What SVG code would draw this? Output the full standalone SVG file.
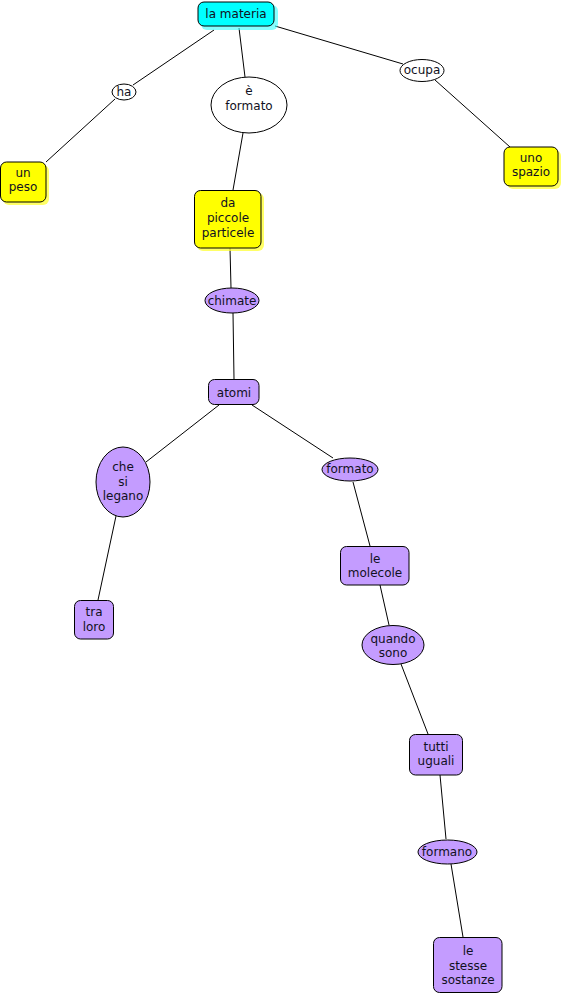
<svg xmlns="http://www.w3.org/2000/svg" width="564" height="994" viewBox="0 0 564 994">
<style>
.n{stroke:#000;stroke-width:1}
.y{fill:#ffff00}
.c{fill:#00ffff}
.p{fill:#c49cff}
.w{fill:#fff}
.sy{fill:#ffff33;opacity:0.75}
.sc{fill:#33ffff;opacity:0.6}
text{font-family:"DejaVu Sans",Verdana,sans-serif;font-size:12px;fill:#111122;text-anchor:middle}
.e{stroke:#000;stroke-width:1;fill:none}
</style>
<rect width="564" height="994" fill="#fff"/>
<g id="connectors">
<line class="e" x1="214" y1="30" x2="133" y2="85"/>
<line class="e" x1="115" y1="99" x2="46" y2="162"/>
<line class="e" x1="239" y1="28" x2="245" y2="77"/>
<line class="e" x1="243" y1="133" x2="233" y2="190"/>
<line class="e" x1="275" y1="26" x2="403" y2="64"/>
<line class="e" x1="435" y1="80" x2="510" y2="147"/>
<line class="e" x1="230" y1="248" x2="231" y2="288"/>
<line class="e" x1="233" y1="313" x2="234" y2="379"/>
<line class="e" x1="219" y1="405" x2="146" y2="462"/>
<line class="e" x1="252" y1="405" x2="333" y2="458"/>
<line class="e" x1="116" y1="516" x2="98" y2="600"/>
<line class="e" x1="353" y1="482" x2="370" y2="546"/>
<line class="e" x1="380" y1="585" x2="389" y2="625"/>
<line class="e" x1="401" y1="664" x2="428" y2="734"/>
<line class="e" x1="440" y1="775" x2="446" y2="839"/>
<line class="e" x1="451" y1="864" x2="463" y2="937"/>
</g>
<g id="n-materia">
<rect class="sc" x="201" y="5" width="77" height="25" rx="6"/>
<rect class="n c" x="198" y="2" width="76" height="24" rx="6"/>
<text x="236" y="18">la materia</text>
</g>
<g id="n-ha">
<ellipse class="n w" cx="124" cy="92" rx="12" ry="8"/>
<text x="124" y="96">ha</text>
</g>
<g id="n-eformato">
<ellipse class="n w" cx="249" cy="105" rx="38" ry="28"/>
<text x="249" y="95">è</text>
<text x="249" y="110">formato</text>
</g>
<g id="n-ocupa">
<ellipse class="n w" cx="422" cy="70.5" rx="22" ry="11"/>
<text x="422" y="74">ocupa</text>
</g>
<g id="n-unopeso">
<rect class="sy" x="3" y="165" width="46" height="40" rx="6"/>
<rect class="n y" x="0.5" y="162" width="45.5" height="40" rx="6"/>
<text x="23" y="177">un</text>
<text x="23" y="191">peso</text>
</g>
<g id="n-spazio">
<rect class="sy" x="507" y="150" width="54" height="39" rx="6"/>
<rect class="n y" x="504" y="147" width="54" height="39" rx="6"/>
<text x="531" y="162">uno</text>
<text x="531" y="176">spazio</text>
</g>
<g id="n-particele">
<rect class="sy" x="197" y="193" width="67" height="58" rx="6"/>
<rect class="n y" x="194.5" y="190.5" width="66.5" height="57.5" rx="6"/>
<text x="228" y="207">da</text>
<text x="228" y="222">piccole</text>
<text x="228" y="237">particele</text>
</g>
<g id="n-chimate">
<ellipse class="n p" cx="232" cy="300.5" rx="27" ry="12.5"/>
<text x="232" y="305">chimate</text>
</g>
<g id="n-atomi">
<rect class="n p" x="208.5" y="379.5" width="50.5" height="25" rx="6"/>
<text x="234" y="397">atomi</text>
</g>
<g id="n-legano">
<ellipse class="n p" cx="123" cy="482" rx="27" ry="35"/>
<text x="123" y="471">che</text>
<text x="123" y="486">si</text>
<text x="123" y="500">legano</text>
</g>
<g id="n-formato">
<ellipse class="n p" cx="350" cy="469.5" rx="28" ry="11.5"/>
<text x="350" y="473">formato</text>
</g>
<g id="n-traloro">
<rect class="n p" x="74.5" y="600.5" width="39" height="38.5" rx="6"/>
<text x="94" y="616">tra</text>
<text x="94" y="631">loro</text>
</g>
<g id="n-molecole">
<rect class="n p" x="340.5" y="546.5" width="68.5" height="38.5" rx="6"/>
<text x="375" y="563">le</text>
<text x="375" y="577">molecole</text>
</g>
<g id="n-quando">
<ellipse class="n p" cx="393" cy="645" rx="31" ry="19.5"/>
<text x="393" y="643">quando</text>
<text x="393" y="657">sono</text>
</g>
<g id="n-tutti">
<rect class="n p" x="409.5" y="734.5" width="53" height="40.5" rx="6"/>
<text x="436" y="751">tutti</text>
<text x="436" y="765">uguali</text>
</g>
<g id="n-formano">
<ellipse class="n p" cx="447.5" cy="852" rx="29.5" ry="12"/>
<text x="447" y="856">formano</text>
</g>
<g id="n-sostanze">
<rect class="n p" x="433.5" y="937.5" width="68.5" height="55" rx="6"/>
<text x="468" y="955">le</text>
<text x="468" y="970">stesse</text>
<text x="468" y="984">sostanze</text>
</g>
</svg>
